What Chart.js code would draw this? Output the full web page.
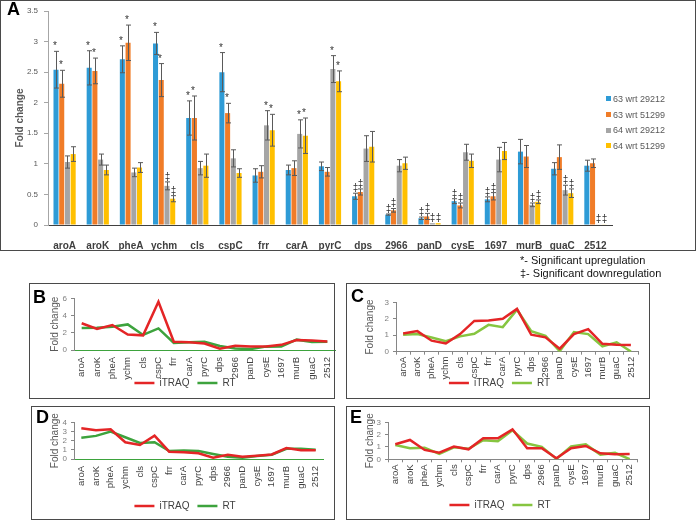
<!DOCTYPE html>
<html><head><meta charset="utf-8">
<script src="https://cdn.jsdelivr.net/npm/chart.js@4.4.1/dist/chart.umd.min.js"></script>
<style>
html,body{margin:0;padding:0;background:#fff;}
body{width:696px;height:520px;overflow:hidden;position:relative;font-family:"Liberation Sans",Arial,sans-serif;}
canvas{position:absolute;}
.box{position:absolute;border:1px solid #4a4a4a;box-sizing:border-box;pointer-events:none;}
.lbl{position:absolute;font-weight:bold;font-size:18px;line-height:18px;color:#000;}
.note{position:absolute;left:520px;font-size:11px;line-height:13px;color:#111;white-space:nowrap;}
.leg{position:absolute;left:606px;font-size:9px;line-height:15.7px;color:#595959;white-space:nowrap;}
.leg span{display:inline-block;width:5px;height:5px;margin-right:2px;vertical-align:middle;position:relative;top:-1px;}
</style></head><body>
<canvas id="cA" width="696" height="250" style="left:0;top:0"></canvas>
<canvas id="cB" width="310" height="115" style="left:30px;top:284px"></canvas>
<canvas id="cC" width="301" height="114" style="left:347px;top:285px"></canvas>
<canvas id="cD" width="300" height="115" style="left:33px;top:407px"></canvas>
<canvas id="cE" width="301" height="115" style="left:347px;top:407px"></canvas>

<div class="box" style="left:0;top:0;width:696px;height:251px"></div>
<div class="box" style="left:29px;top:283px;width:306px;height:116px"></div>
<div class="box" style="left:346px;top:283px;width:304px;height:116px"></div>
<div class="box" style="left:31px;top:406px;width:304px;height:114px"></div>
<div class="box" style="left:346px;top:406px;width:304px;height:114px"></div>

<div class="lbl" style="left:7px;top:0px">A</div>
<div class="lbl" style="left:33px;top:287.5px">B</div>
<div class="lbl" style="left:351px;top:286.5px">C</div>
<div class="lbl" style="left:36px;top:407.5px">D</div>
<div class="lbl" style="left:350px;top:407.5px">E</div>

<div class="note" style="top:253.5px">*- Significant upregulation</div>
<div class="note" style="top:266.5px">‡- Significant downregulation</div>

<div class="leg" style="top:92px">
<div><span style="background:#2E9BD6"></span>63 wrt 29212</div>
<div><span style="background:#F07C28"></span>63 wrt 51299</div>
<div><span style="background:#A5A5A5"></span>64 wrt 29212</div>
<div><span style="background:#FFC000"></span>64 wrt 51299</div>
</div>

<script>
const categories = ['aroA','aroK','pheA','ychm','cls','cspC','frr','carA','pyrC','dps','2966','panD','cysE','1697','murB','guaC','2512'];

// Panel A: RT fold change (also the RT lines of panels B-E)
const fc63_29212 = [2.54,2.57,2.71,2.97,1.75,2.50,0.81,0.90,0.96,0.47,0.17,0.11,0.39,0.42,1.20,0.92,0.97];
const err63_29212 = [0.30,0.28,0.22,0.18,0.28,0.32,0.11,0.08,0.07,0.05,0.01,0.02,0.04,0.04,0.20,0.10,0.09];
const fc63_51299 = [2.31,2.52,2.98,2.37,1.75,1.83,0.87,0.93,0.87,0.54,0.24,0.14,0.32,0.47,1.12,1.11,1.01];
const err63_51299 = [0.22,0.21,0.29,0.27,0.36,0.16,0.10,0.12,0.07,0.05,0.03,0.05,0.04,0.06,0.18,0.20,0.07];
const fc64_29212 = [1.03,1.07,0.86,0.64,0.93,1.09,1.63,1.49,2.55,1.25,0.97,0.03,1.19,1.07,0.33,0.57,0.01];
const err64_29212 = [0.10,0.09,0.07,0.065,0.11,0.14,0.24,0.23,0.22,0.21,0.10,0,0.13,0.20,0.03,0.08,0];
const fc64_51299 = [1.16,0.90,0.94,0.43,0.97,0.85,1.55,1.46,2.35,1.28,1.01,0.03,1.05,1.21,0.38,0.52,0.01];
const err64_51299 = [0.12,0.08,0.08,0.05,0.19,0.07,0.26,0.29,0.17,0.25,0.10,0,0.11,0.14,0.03,0.07,0];

const sig63_29212 = ['*','*','*','*','*','*','','','','‡','‡','‡','‡','‡','','',''];
const sig63_51299 = ['*','*','*','*','*','*','','','','‡','‡','‡','‡','‡','','',''];
const sig64_29212 = ['','','','‡','','','*','*','*','','','‡','','','‡','‡','‡'];
const sig64_51299 = ['','','','‡','','','*','*','*','','','‡','','','‡','‡','‡'];

// Panels B-E: iTRAQ fold change
const itraq63_29212 = [3.10,2.45,2.90,1.80,1.70,5.60,0.95,0.90,0.75,0.15,0.50,0.40,0.40,0.60,1.15,1.10,1.00];
const itraq64_29212 = [1.10,1.25,0.67,0.50,1.07,1.87,1.90,2.00,2.60,1.03,0.87,0.18,1.07,1.37,0.48,0.42,0.40];
const itraq63_51299 = [3.35,3.13,3.24,1.82,1.53,2.55,0.80,0.73,0.62,0.15,0.45,0.25,0.36,0.50,1.20,0.95,0.95];
const itraq64_51299 = [1.22,1.57,0.76,0.54,1.03,0.81,1.70,1.70,2.43,0.90,0.90,0.08,0.90,1.08,0.49,0.41,0.43];

const FONT = '"Liberation Sans", Arial, sans-serif';
Chart.defaults.font.family = FONT;

const errorBars = {
  id: 'errorBars',
  afterDatasetsDraw(chart) {
    const ctx = chart.ctx, ys = chart.scales.y;
    ctx.save();
    chart.data.datasets.forEach((ds, di) => {
      const meta = chart.getDatasetMeta(di);
      meta.data.forEach((el, i) => {
        const v = ds.data[i], e = ds.errors[i] || 0;
        const x = Math.round(el.x) + 0.5;
        const yt = ys.getPixelForValue(v + e), yb = ys.getPixelForValue(Math.max(v - e, 0));
        if (e > 0) {
          ctx.strokeStyle = '#5a5a5a'; ctx.lineWidth = 1;
          ctx.beginPath();
          ctx.moveTo(x, yt); ctx.lineTo(x, yb);
          ctx.moveTo(x - 2.5, yt); ctx.lineTo(x + 2.5, yt);
          ctx.moveTo(x - 2.5, yb); ctx.lineTo(x + 2.5, yb);
          ctx.stroke();
        }
        const s = ds.sig[i];
        if (s) {
          ctx.fillStyle = '#333'; ctx.font = '10px ' + FONT;
          ctx.textAlign = 'center'; ctx.textBaseline = 'alphabetic';
          ctx.fillText(s, x - (s === '*' ? 1.5 : 0), yt - 2);
        }
      });
    });
    ctx.restore();
  }
};

new Chart(document.getElementById('cA'), {
  type: 'bar',
  data: {
    labels: categories,
    datasets: [
      {label:'63 wrt 29212', data: fc63_29212, errors: err63_29212, sig: sig63_29212, backgroundColor:'#2E9BD6'},
      {label:'63 wrt 51299', data: fc63_51299, errors: err63_51299, sig: sig63_51299, backgroundColor:'#F07C28'},
      {label:'64 wrt 29212', data: fc64_29212, errors: err64_29212, sig: sig64_29212, backgroundColor:'#A5A5A5'},
      {label:'64 wrt 51299', data: fc64_51299, errors: err64_51299, sig: sig64_51299, backgroundColor:'#FFC000'}
    ]
  },
  options: {
    responsive: false, animation: false,
    layout: {padding: {left: 0, top: 11, right: 84, bottom: 0}},
    datasets: {bar: {categoryPercentage: 0.69, barPercentage: 0.88}},
    plugins: {legend: {display: false}, tooltip: {enabled: false}},
    scales: {
      x: {
        grid: {display: false},
        border: {color: '#404040'},
        ticks: {font: {size: 10, weight: 'bold'}, color: '#404040', padding: 7, autoSkip: false, maxRotation: 0},
        afterFit(s) { s.height = 25; s.paddingLeft = 0; s.paddingRight = 0; }
      },
      y: {
        min: 0, max: 3.5,
        ticks: {stepSize: 0.5, autoSkip: false, font: {size: 8}, color: '#595959', padding: 6, callback: v => String(Math.round(v * 10) / 10)},
        grid: {drawOnChartArea: false, tickLength: 4, color: '#a6a6a6'},
        border: {color: '#a6a6a6'},
        title: {display: true, text: 'Fold change', font: {size: 10, weight: 'bold'}, color: '#595959', padding: {top: 14, bottom: 0}},
        afterFit(s) { s.width = 48; s.paddingTop = 0; s.paddingBottom = 0; }
      }
    }
  },
  plugins: [errorBars]
});

const RED = '#E42526';
function makeLine(id, itraq, rt, cfg) {
  new Chart(document.getElementById(id), {
    type: 'line',
    data: {
      labels: categories,
      datasets: [
        {label: 'iTRAQ', data: itraq, borderColor: RED, backgroundColor: RED, borderWidth: 2.5, pointRadius: 0, tension: 0},
        {label: 'RT', data: rt, borderColor: cfg.green, backgroundColor: cfg.green, borderWidth: 2.5, pointRadius: 0, tension: 0}
      ]
    },
    options: {
      responsive: false, animation: false,
      layout: {padding: {left: cfg.pl, right: cfg.pr, top: cfg.pt, bottom: cfg.pb}},
      plugins: {
        tooltip: {enabled: false},
        legend: {position: 'bottom', labels: {usePointStyle: true, pointStyle: 'line', pointStyleWidth: 20, font: {size: 10}, color: '#404040', padding: 8}}
      },
      scales: {
        x: {
          offset: true,
          grid: {display: cfg.xTicks, drawOnChartArea: false, tickLength: 3, offset: true, color: '#868686'},
          border: {color: cfg.axis},
          ticks: {autoSkip: false, minRotation: 90, maxRotation: 90, font: {size: 9.5}, color: '#404040', padding: cfg.xTicks ? 2 : 4},
          afterFit(s) {
            s.height = cfg.xH; s.paddingLeft = 0; s.paddingRight = 0;
            s._computeLabelArea = () => undefined; // let rotated labels run past the axis box
          }
        },
        y: {
          min: 0, max: cfg.ymax,
          ticks: {stepSize: cfg.step, autoSkip: false, font: {size: 8}, color: '#7f7f7f', padding: 4},
          grid: {drawOnChartArea: false, tickLength: 3, color: '#868686'},
          border: {color: '#868686'},
          title: {display: true, text: 'Fold change', font: {size: 10}, color: '#595959', padding: {top: cfg.tp, bottom: 0}},
          afterFit(s) { s.width = cfg.yW; s.paddingTop = 0; s.paddingBottom = 0; }
        }
      }
    }
  });
}

makeLine('cB', itraq63_29212, fc63_29212, {green: '#3DA33D', axis: '#3DA33D', xTicks: false, ymax: 6, step: 2, pl: 5, yW: 39, pr: 5, pt: 14.3, pb: 1, xH: 20, tp: 14});
makeLine('cC', itraq64_29212, fc64_29212, {green: '#86C540', axis: '#868686', xTicks: true, ymax: 3, step: 1, pl: 14, yW: 35, pr: 10, pt: 17.3, pb: 1, xH: 18.3, tp: 3});
makeLine('cD', itraq63_51299, fc63_51299, {green: '#3DA33D', axis: '#3DA33D', xTicks: false, ymax: 4, step: 1, pl: 14, yW: 27, pr: 10, pt: 15.3, pb: 1, xH: 34, tp: 2});
makeLine('cE', itraq64_51299, fc64_51299, {green: '#86C540', axis: '#868686', xTicks: true, ymax: 3, step: 1, pl: 16, yW: 25, pr: 11, pt: 15.3, pb: 2, xH: 32.7, tp: 1});
</script>
</body></html>
